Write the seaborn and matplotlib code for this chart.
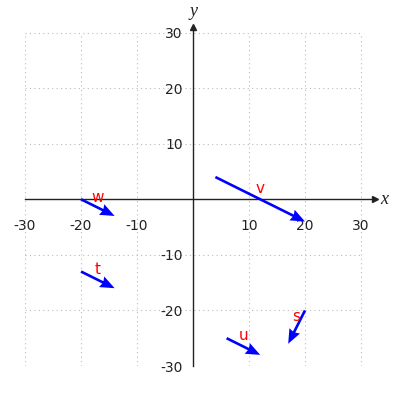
import numpy as np
import matplotlib
matplotlib.use("Agg")
import matplotlib.pyplot as plt
import seaborn as sns

# vectors: name, tail point, components
names = ['v', 'w', 't', 'u', 's']
x0 = [4, -20, -20, 6, 20]
y0 = [4, 0, -13, -25, -20]
dx = [16, 6, 6, 6, -3]
dy = [-8, -3, -3, -3, -6]

ticks = [-30, -20, -10, 10, 20, 30]

sns.set_style("white")
plt.rcParams['font.family'] = ['DejaVu Sans']
plt.rcParams['axes.unicode_minus'] = False

fig = plt.figure(figsize=(4, 4), dpi=100)
ax = fig.add_axes([0.0625, 0.085, 0.875, 0.8475])
ax.set_xlim(-30, 32.5)
ax.set_ylim(-30, 31)

# dotted grid only inside -30..30
for t in [-30, -20, -10, 10, 20, 30]:
    ax.plot([t, t], [-30, 30], ls=(0, (1, 3)), color='#bbbbbb', lw=0.8, zorder=0)
    ax.plot([-30, 30], [t, t], ls=(0, (1, 3)), color='#bbbbbb', lw=0.8, zorder=0)

ax.spines['left'].set_position('zero')
ax.spines['bottom'].set_position('zero')
ax.spines['right'].set_visible(False)
ax.spines['top'].set_visible(False)
for sp in ['left', 'bottom']:
    ax.spines[sp].set_color('#222222')
    ax.spines[sp].set_linewidth(1)

ax.set_xticks(ticks)
ax.set_yticks(ticks)
ax.tick_params(axis='both', direction='out', length=4, width=1, colors='#222222',
               labelsize=10, labelcolor='#222222')
ax.tick_params(axis='x', pad=10)

# axis arrows
ax.plot(1, 0, '>', color='#222222', ms=5, transform=ax.get_yaxis_transform(), clip_on=False)
ax.plot(0, 1, '^', color='#222222', ms=5, transform=ax.get_xaxis_transform(), clip_on=False)
ax.text(1.015, 0, 'x', transform=ax.get_yaxis_transform(), ha='left', va='center',
        fontsize=13, fontstyle='italic', family='Liberation Serif', color='#222222')
ax.text(0, 1.02, 'y', transform=ax.get_xaxis_transform(), ha='center', va='bottom',
        fontsize=13, fontstyle='italic', family='Liberation Serif', color='#222222')

ax.quiver(x0, y0, dx, dy, angles='xy', scale_units='xy', scale=1, color='blue',
          width=0.0075, headwidth=4.5, headlength=5.5, headaxislength=5, zorder=3)

mx = np.array(x0) + np.array(dx) / 2
my = np.array(y0) + np.array(dy) / 2
for n, a, b in zip(names, mx, my):
    ax.text(a, b + 1.9, n, color='red', fontsize=11, ha='center', va='center')

fig.savefig('out.png', dpi=100)
